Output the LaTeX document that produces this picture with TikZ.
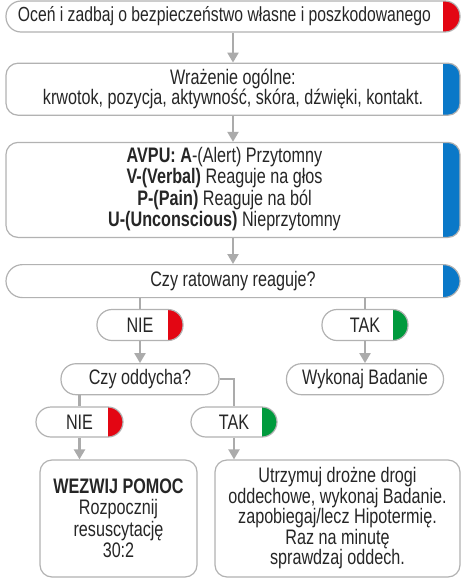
\documentclass[tikz,border=0pt]{standalone}
\usepackage{fontspec}
\setmainfont{Liberation Sans}[FakeStretch=0.77]
\usetikzlibrary{arrows.meta, positioning}

\definecolor{boxgray}{HTML}{B2B2B2}
\definecolor{arrowgray}{HTML}{ABABAB}
\definecolor{tabred}{HTML}{E30613}
\definecolor{tabblue}{HTML}{0A78C8}
\definecolor{tabgreen}{HTML}{009A3D}
\definecolor{textdark}{HTML}{262626}

\tikzset{
  box/.style={draw=boxgray, line width=1.2pt, fill=white, rounded corners=12pt, inner sep=0pt,
    text=textdark, font=\fontsize{21}{20.5}\selectfont},
  pill/.style={box, rounded corners=15pt, minimum height=31pt},
  tab/.style={path picture={\fill[#1, sharp corners] ([xshift=-17pt]path picture bounding box.north east)
    rectangle (path picture bounding box.south east);}},
  smalltab/.style={path picture={\fill[#1, sharp corners] ([xshift=-15pt]path picture bounding box.north east)
    rectangle (path picture bounding box.south east);}},
  flow/.style={draw=arrowgray, line width=2.2pt, -{Triangle[length=10pt,width=11pt]}},
  link/.style={draw=arrowgray, line width=2.2pt},
}

\begin{document}
\begin{tikzpicture}[x=1pt, y=-1pt]
  \useasboundingbox (0,0) rectangle (461,579);

  % main column
  \node[pill, tab=tabred, minimum width=454pt, font=\fontsize{20.4}{20.5}\selectfont] (safety) at (233,16.5)
    {Oceń i zadbaj o bezpieczeństwo własne i poszkodowanego\makebox[17pt]{}};
  \node[box, tab=tabblue, minimum width=454pt, minimum height=52pt, align=center,
    below=30pt of safety] (impression)
    {Wrażenie ogólne:\\krwotok, pozycja, aktywność, skóra, dźwięki, kontakt.};
  \node[box, tab=tabblue, minimum width=454pt, minimum height=95pt, below=26pt of impression] (avpu)
    {\begin{tabular}{@{}c@{}}
      \textbf{AVPU: A}-(Alert) Przytomny\\
      \textbf{V-(Verbal)} Reaguje na głos\\
      \textbf{P-(Pain)} Reaguje na ból\\
      \textbf{U-(Unconscious)} Nieprzytomny
    \end{tabular}\makebox[17pt]{}};
  \node[pill, tab=tabblue, minimum width=454pt, minimum height=33pt, rounded corners=16.5pt,
    below=26pt of avpu] (resp) {Czy ratowany reaguje?};

  % branches
  \node[pill, smalltab=tabred, minimum width=86pt] (noresp) at (140,325) {NIE};
  \node[pill, smalltab=tabgreen, minimum width=86pt] (yesresp) at (365,325) {TAK};
  \node[pill, minimum width=158pt, below=22pt of noresp] (breath) {Czy oddycha?};
  \node[pill, minimum width=157pt, below=22pt of yesresp] (exam) {Wykonaj Badanie};
  \node[pill, smalltab=tabred, minimum width=87pt, minimum height=30pt] (nobreath) at (79.5,422) {NIE};
  \node[pill, smalltab=tabgreen, minimum width=86pt, minimum height=30pt] (yesbreath) at (234,422) {TAK};

  % final boxes
  \node[box, minimum width=157pt, minimum height=117pt, align=center,
    font=\fontsize{21}{21.5}\selectfont] (cpr) at (118.5,518.5)
    {\textbf{WEZWIJ POMOC}\\Rozpocznij\\resuscytację\\30:2};
  \node[box, minimum width=245pt, minimum height=117pt, align=center] (care) at (337.5,518.5)
    {Utrzymuj drożne drogi\\oddechowe, wykonaj Badanie.\\zapobiegaj/lecz Hipotermię.\\Raz na minutę\\sprawdzaj oddech.};

  % connectors
  \draw[flow] (safety) -- (impression);
  \draw[flow] (impression) -- (avpu);
  \draw[flow] (avpu) -- (resp);
  \draw[link] (noresp.north |- resp.south) -- (noresp.north);
  \draw[link] (yesresp.north |- resp.south) -- (yesresp.north);
  \draw[flow] (noresp) -- (breath);
  \draw[flow] (yesresp) -- (exam);
  \draw[link] (nobreath.north |- breath.south) -- (nobreath.north);
  \draw[link] (breath.east) -| (yesbreath.north);
  \draw[flow] (nobreath.south) -- (nobreath.south |- cpr.north);
  \draw[flow] (yesbreath.south) -- (yesbreath.south |- care.north);
\end{tikzpicture}
\end{document}
